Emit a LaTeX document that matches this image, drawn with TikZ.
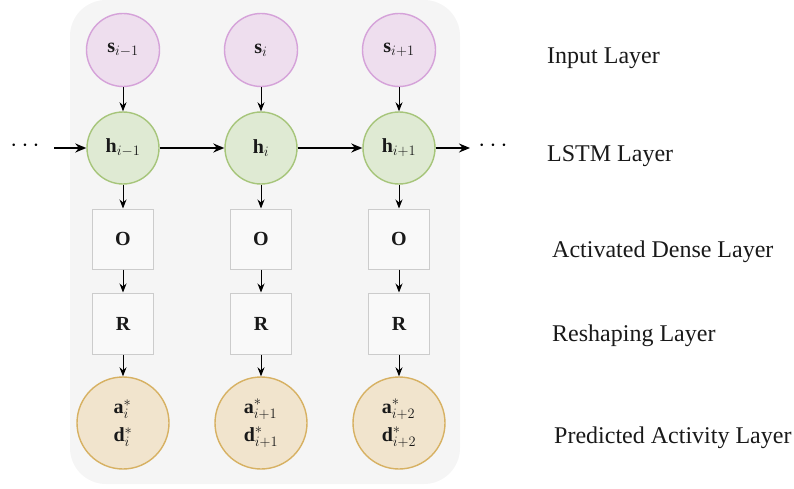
\documentclass[tikz,border=0pt]{standalone}
\usepackage{fontspec}
\setmainfont{Liberation Serif}
\usetikzlibrary{arrows.meta}
\definecolor{panelbg}{HTML}{F5F5F5}
\definecolor{infill}{HTML}{EEDEEE}
\definecolor{indraw}{HTML}{D5A2D9}
\definecolor{lstmfill}{HTML}{DFEAD3}
\definecolor{lstmdraw}{HTML}{A6C57A}
\definecolor{outfill}{HTML}{F1E4CD}
\definecolor{outdraw}{HTML}{D7B163}
\definecolor{boxfill}{HTML}{F9F9F9}
\definecolor{boxdraw}{HTML}{CCCCCC}
\tikzset{
  mathlbl/.style={font=\fontsize{20}{23}\selectfont, text=black!90},
  inputnode/.style={circle, draw=indraw, fill=infill, line width=1.4pt, minimum size=73pt, inner sep=0pt, mathlbl},
  lstmnode/.style={circle, draw=lstmdraw, fill=lstmfill, line width=1.4pt, minimum size=72pt, inner sep=0pt, mathlbl},
  densebox/.style={rectangle, draw=boxdraw, fill=boxfill, line width=1pt, minimum width=61pt, minimum height=60pt, inner sep=0pt, mathlbl},
  prednode/.style={circle, draw=outdraw, fill=outfill, line width=1.4pt, minimum size=92pt, inner sep=0pt, align=left, mathlbl},
  layerlbl/.style={anchor=base west, inner sep=0pt, font=\fontsize{24}{27}\selectfont, text=black!90},
  dotslbl/.style={inner sep=0pt, font=\fontsize{34}{36}\selectfont},
  vflow/.style={-{Stealth[length=9pt,width=7pt]}, line width=0.9pt},
  hflow/.style={-{Stealth[length=11pt,width=9pt]}, line width=1.8pt},
}
\begin{document}
\begin{tikzpicture}[x=1pt,y=-1pt]
\useasboundingbox (0,0) rectangle (794,489);
% shared panel behind the unrolled network
\fill[panelbg, rounded corners=36pt] (70,0) rectangle (460,484);

% input layer
\node[inputnode] (s1) at (123,50) {$\mathbf{s}_{i-1}$};
\node[inputnode] (s2) at (261,50) {$\mathbf{s}_{i}$};
\node[inputnode] (s3) at (399,50) {$\mathbf{s}_{i+1}$};

% LSTM layer
\node[lstmnode] (h1) at (123,148) {$\mathbf{h}_{i-1}$};
\node[lstmnode] (h2) at (261,148) {$\mathbf{h}_{i}$};
\node[lstmnode] (h3) at (399,148) {$\mathbf{h}_{i+1}$};

% activated dense layer
\node[densebox] (o1) at (123,239) {$\mathbf{O}$};
\node[densebox] (o2) at (261,239) {$\mathbf{O}$};
\node[densebox] (o3) at (399,239) {$\mathbf{O}$};

% reshaping layer
\node[densebox, minimum height=61pt] (r1) at (123,323.5) {$\mathbf{R}$};
\node[densebox, minimum height=61pt] (r2) at (261,323.5) {$\mathbf{R}$};
\node[densebox, minimum height=61pt] (r3) at (399,323.5) {$\mathbf{R}$};

% predicted activity layer
\node[prednode] (p1) at (123,423) {$\mathbf{a}^{*}_{i}$\\[5pt]$\mathbf{d}^{*}_{i}$};
\node[prednode] (p2) at (261,423) {$\mathbf{a}^{*}_{i+1}$\\[5pt]$\mathbf{d}^{*}_{i+1}$};
\node[prednode] (p3) at (399,423) {$\mathbf{a}^{*}_{i+2}$\\[5pt]$\mathbf{d}^{*}_{i+2}$};

% continuation marks
\node[dotslbl] (dl) at (25,146) {$\cdots$};
\node[dotslbl] (dr) at (493,146) {$\cdots$};
\coordinate (inL) at (54,148);
\coordinate (outR) at (470,148);

% vertical flow in each column
\foreach \c in {1,2,3} {
  \draw[vflow] (s\c) -- (h\c);
  \draw[vflow] (h\c) -- (o\c);
  \draw[vflow] (o\c) -- (r\c);
  \draw[vflow] (r\c) -- (p\c);
}

% recurrent connections
\draw[hflow] (inL) -- (h1);
\draw[hflow] (h1) -- (h2);
\draw[hflow] (h2) -- (h3);
\draw[hflow] (h3) -- (outR);

% layer names
\node[layerlbl] (l1) at (547,64) {Input Layer};
\node[layerlbl] (l2) at (547,162) {LSTM Layer};
\node[layerlbl] (l3) at (552,257) {Activated Dense Layer};
\node[layerlbl] (l4) at (552,341) {Reshaping Layer};
\node[layerlbl] (l5) at (554,443) {Predicted Activity Layer};
\end{tikzpicture}
\end{document}
